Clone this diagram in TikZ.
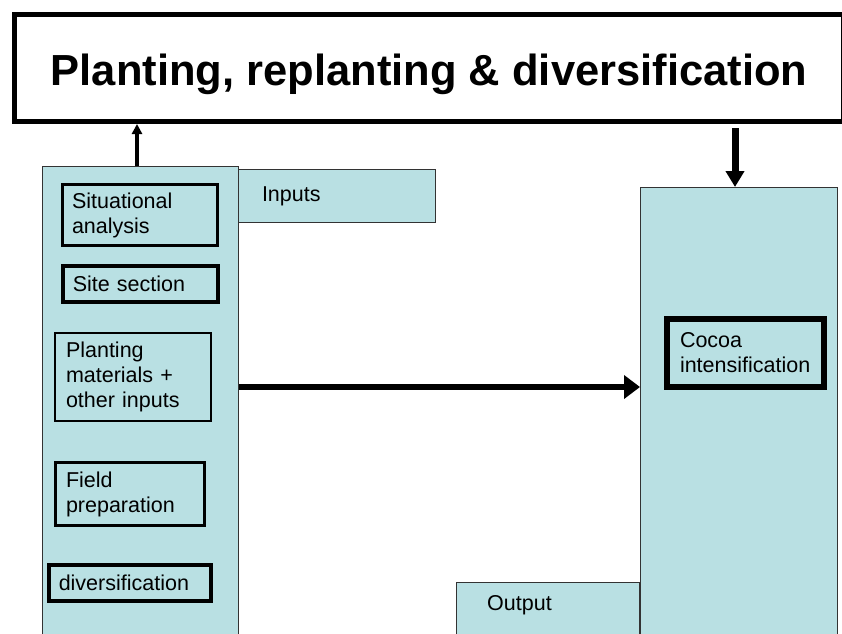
\documentclass[tikz,border=0pt]{standalone}
\usepackage{fontspec}
\setmainfont{Liberation Sans}
\usepackage{xcolor}
\usepackage{tikz}
\usetikzlibrary{arrows.meta}
\usetikzlibrary{positioning}
\definecolor{panel-blue}{RGB}{185,224,227}
\tikzset{flow-panel/.style={draw=black!80, line width=1pt, fill=panel-blue, inner sep=0, anchor=north west}}
\tikzset{flow-step/.style={draw, fill=panel-blue, inner sep=0, anchor=north west, align=left, font=\fontsize{21.5}{25}\selectfont}}
\tikzset{flow-label/.style={inner sep=0, font=\fontsize{21.5}{25}\selectfont}}
\tikzset{flow-title/.style={draw, line width=5pt, inner sep=0, anchor=north west, text height=34pt, text depth=0pt, font=\bfseries\fontsize{43.5}{50}\selectfont}}

\begin{document}
\begin{tikzpicture}[x=1pt, y=-1pt]
            \useasboundingbox (0,0) rectangle (842,633);
            \clip (0,0) rectangle (842,633);

            \node[flow-title, minimum width=829pt, minimum height=107pt] (title) at (12,12) {Planting, replanting \& diversification};

            \node[flow-panel, align=left, text width=150pt, minimum width=197pt, minimum height=53pt, font=\fontsize{21.5}{25}\selectfont] (inputs) at (238,169) {Inputs};
            \node[flow-panel, minimum width=183pt, minimum height=80pt] (output) at (456,582) {};
            \node[flow-label, anchor=base west] (output-text) at ([xshift=31pt, yshift=-28pt]output.north west) {Output};

            \node[flow-panel, minimum width=196pt, minimum height=480pt] (left-panel) at (42,166) {};
            \node[flow-panel, minimum width=197pt, minimum height=460pt] (right-panel) at (640,187) {};

            \node[flow-step, line width=3pt, minimum width=155pt, minimum height=61pt, text width=136pt] (step1) at (61,183) {Situational\\analysis};
            \node[flow-step, line width=3.5pt, minimum width=155pt, minimum height=36pt, text width=135pt] (step2) at (61,264) {Site section};
            \node[flow-step, line width=2pt, minimum width=156pt, minimum height=88pt, text width=134pt] (step3) at (54,332) {Planting\\materials +\\other inputs};
            \node[flow-step, line width=3pt, minimum width=149pt, minimum height=63pt, text width=128pt] (step4) at (54,461) {Field\\preparation};
            \node[flow-step, line width=3.5pt, minimum width=162pt, minimum height=36pt, text width=142pt] (step5) at (47,563) {diversification};

            \node[flow-step, line width=6pt, minimum width=157pt, minimum height=68pt, text width=131pt] (cocoa) at (664,316) {Cocoa\\intensification};

            \coordinate (flow-row) at ([yshift=-10pt]step3.east);

            \draw[-{Triangle[length=10pt, width=10pt]}, line width=4pt] ([xshift=95pt]left-panel.north west) -- ([xshift=95pt]left-panel.north west |- title.south);
            \draw[-{Triangle[length=16pt, width=18pt]}, line width=7pt, shorten <=4pt] ([xshift=95pt]right-panel.north west |- title.south) -- ([xshift=95pt]right-panel.north west);
            \draw[-{Triangle[length=16pt, width=23pt]}, line width=6pt] (flow-row -| left-panel.east) -- (flow-row -| right-panel.west);

        \end{tikzpicture}
\end{document}
